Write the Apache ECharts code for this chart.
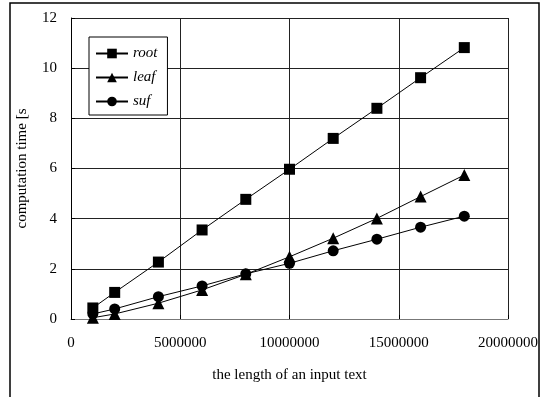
<!DOCTYPE html>
<html>
<head>
<meta charset="utf-8">
<script src="https://cdn.jsdelivr.net/npm/echarts@6/dist/echarts.min.js"></script>
<style>
  html, body { margin: 0; padding: 0; background: #fff; }
  #chart { width: 542px; height: 397px; }
</style>
</head>
<body>
<div id="chart"></div>
<script>
var dom = document.getElementById("chart");
var myChart = echarts.init(dom);

// text length (x values)
var lengths = [1000000, 2000000, 4000000, 6000000, 8000000, 10000000, 12000000, 14000000, 16000000, 18000000];
// computation time, seconds
var rootTime = [0.44, 1.06, 2.27, 3.55, 4.77, 5.97, 7.2, 8.4, 9.62, 10.82];
var leafTime = [0.05, 0.2, 0.63, 1.16, 1.78, 2.48, 3.22, 4.01, 4.88, 5.74];
var sufTime  = [0.2, 0.4, 0.89, 1.32, 1.8, 2.22, 2.72, 3.18, 3.66, 4.1];

function pairs(ys) {
  return lengths.map(function (x, i) { return [x, ys[i]]; });
}

var font = 'Liberation Serif';

function lineSeries(name, symbol, size, ys) {
  return {
    name: name,
    type: 'line',
    symbol: symbol,
    symbolSize: size,
    data: pairs(ys),
    itemStyle: { color: '#000' },
    lineStyle: { color: '#000', width: 1 },
    emphasis: { disabled: true },
    z: 3
  };
}

var option = {
  backgroundColor: '#fff',
  animation: false,
  grid: { left: 71, right: 34, top: 18, bottom: 78 },
  graphic: [{
    type: 'rect',
    shape: { x: 10, y: 3, width: 529, height: 430 },
    style: { fill: 'none', stroke: '#000', lineWidth: 1.5 },
    silent: true
  }],
  legend: {
    orient: 'vertical',
    left: 89,
    top: 37,
    padding: [9, 10, 6, 6],
    itemWidth: 32,
    itemHeight: 12,
    itemGap: 9,
    borderColor: '#000',
    borderWidth: 1,
    backgroundColor: '#fff',
    textStyle: { fontFamily: font, fontStyle: 'italic', fontSize: 15, color: '#000' },
    data: ['root', 'leaf', 'suf']
  },
  xAxis: {
    type: 'value',
    min: 0,
    max: 20000000,
    interval: 5000000,
    name: 'the length of an input text',
    nameLocation: 'middle',
    nameGap: 49,
    nameTextStyle: { fontFamily: font, fontSize: 15, color: '#000' },
    axisLine: { show: true, lineStyle: { color: '#777', width: 1 } },
    axisTick: { show: true, inside: true, length: 4, lineStyle: { color: '#000' } },
    axisLabel: {
      fontFamily: font, fontSize: 15, color: '#000', margin: 17,
      formatter: function (v) { return String(v); }
    },
    splitLine: { show: true, lineStyle: { color: '#222', width: 1 } }
  },
  yAxis: {
    type: 'value',
    min: 0,
    max: 12,
    interval: 2,
    name: 'computation time [s',
    nameLocation: 'middle',
    nameGap: 41,
    nameTextStyle: { fontFamily: font, fontSize: 15, color: '#000' },
    axisLine: { show: true, lineStyle: { color: '#000', width: 1 } },
    axisTick: { show: true, inside: true, length: 4, lineStyle: { color: '#000' } },
    axisLabel: { fontFamily: font, fontSize: 15, color: '#000', margin: 14 },
    splitLine: { show: true, lineStyle: { color: '#222', width: 1 } }
  },
  series: [
    lineSeries('root', 'rect', 11, rootTime),
    lineSeries('leaf', 'triangle', 12, leafTime),
    lineSeries('suf', 'circle', 11, sufTime)
  ]
};

myChart.setOption(option, true);
</script>
</body>
</html>
